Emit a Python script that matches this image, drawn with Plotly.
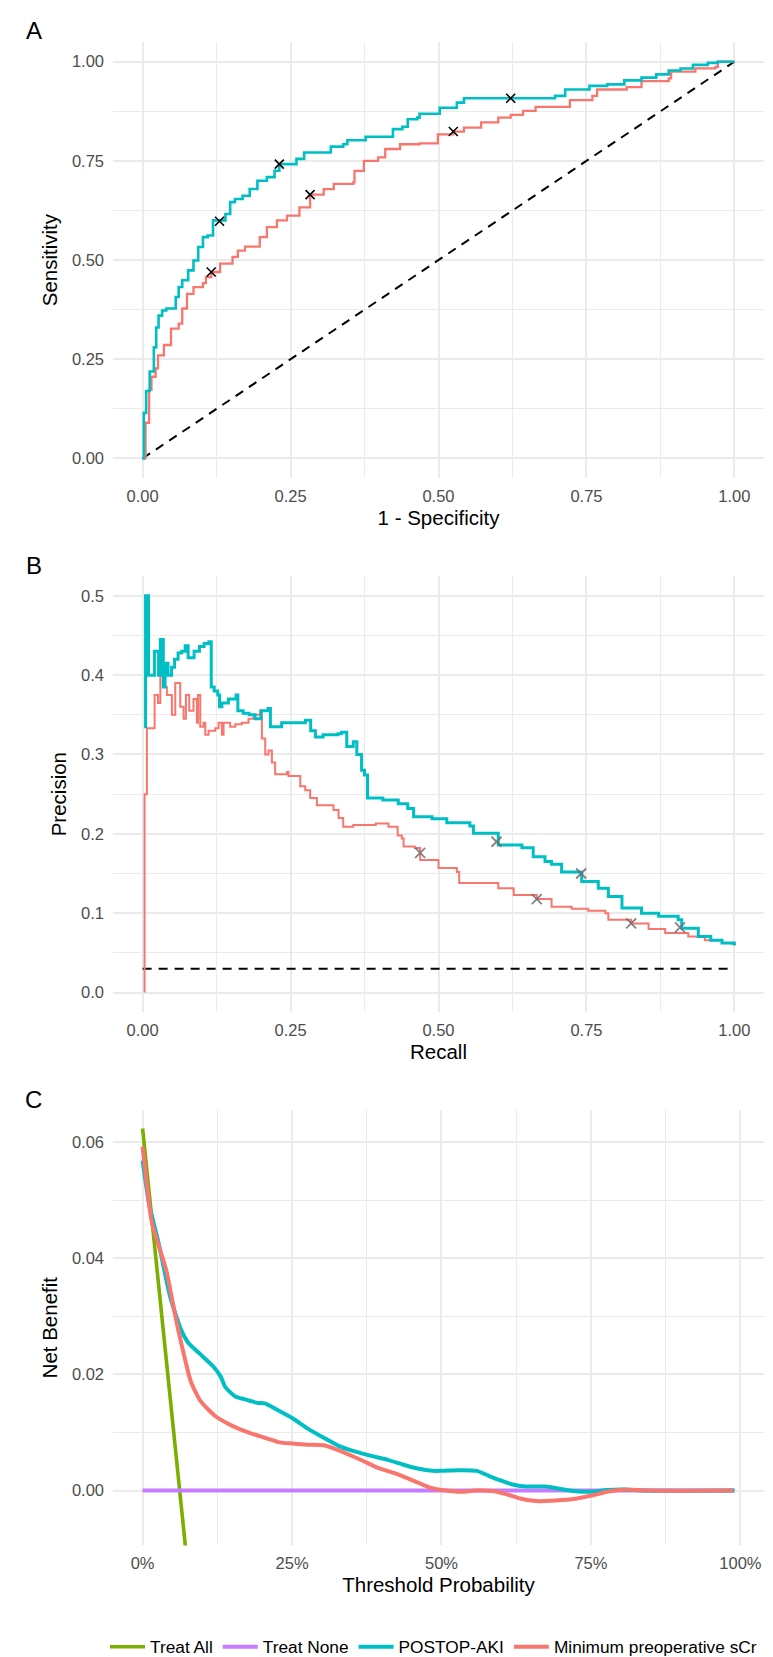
import plotly.graph_objects as go

# ---------------- data ----------------
# Panel A: ROC curves (1 - specificity, sensitivity)
roc_postop_fpr = [0, 0.002, 0.006, 0.012, 0.019, 0.023, 0.027, 0.033, 0.040, 0.052, 0.056, 0.061, 0.067, 0.077,
                  0.086, 0.094, 0.102, 0.110, 0.119, 0.130, 0.140, 0.148, 0.156, 0.169, 0.181, 0.194, 0.210, 0.223,
                  0.231, 0.248, 0.260, 0.273, 0.314, 0.318, 0.339, 0.346, 0.373, 0.377, 0.418, 0.423, 0.439, 0.448,
                  0.464, 0.468, 0.497, 0.502, 0.527, 0.531, 0.543, 0.697, 0.714, 0.751, 0.755, 0.785, 0.814, 0.843,
                  0.868, 0.889, 0.909, 0.930, 0.955, 0.972, 1.0]
roc_postop_tpr = [0, 0.115, 0.17, 0.219, 0.28, 0.33, 0.36, 0.373, 0.378, 0.378, 0.407, 0.432, 0.449, 0.474,
                  0.499, 0.533, 0.558, 0.562, 0.60, 0.60, 0.616, 0.646, 0.654, 0.662, 0.679, 0.70, 0.709, 0.725,
                  0.742, 0.742, 0.755, 0.771, 0.771, 0.786, 0.792, 0.802, 0.802, 0.811, 0.811, 0.83, 0.836, 0.855,
                  0.859, 0.869, 0.869, 0.884, 0.884, 0.897, 0.908, 0.914, 0.93, 0.93, 0.939, 0.943, 0.953, 0.96,
                  0.968, 0.978, 0.983, 0.992, 0.997, 1.0, 1.0]
roc_scr_fpr = [0, 0.005, 0.011, 0.015, 0.022, 0.026, 0.036, 0.048, 0.061, 0.067, 0.075, 0.086, 0.102, 0.107,
               0.116, 0.131, 0.144, 0.152, 0.161, 0.173, 0.196, 0.198, 0.21, 0.227, 0.244, 0.265, 0.283, 0.306,
               0.323, 0.356, 0.358, 0.374, 0.398, 0.41, 0.435, 0.468, 0.497, 0.499, 0.525, 0.543, 0.572, 0.601,
               0.622, 0.643, 0.664, 0.718, 0.722, 0.76, 0.768, 0.818, 0.843, 0.889, 0.893, 0.934, 0.968, 0.972, 1.0]
roc_scr_tpr = [0, 0.09, 0.173, 0.206, 0.227, 0.26, 0.286, 0.327, 0.34, 0.378, 0.415, 0.432, 0.442, 0.457,
               0.47, 0.491, 0.491, 0.508, 0.524, 0.534, 0.534, 0.558, 0.583, 0.60, 0.612, 0.633, 0.665, 0.679,
               0.692, 0.696, 0.725, 0.75, 0.759, 0.78, 0.792, 0.794, 0.794, 0.817, 0.824, 0.834, 0.847, 0.859,
               0.866, 0.876, 0.886, 0.886, 0.903, 0.914, 0.93, 0.936, 0.951, 0.958, 0.975, 0.983, 0.987, 1.0, 1.0]
roc_postop_cut_x = [0.130, 0.231, 0.622]
roc_postop_cut_y = [0.598, 0.742, 0.908]
roc_scr_cut_x = [0.116, 0.283, 0.525]
roc_scr_cut_y = [0.470, 0.665, 0.824]
ref_diag = [0, 1]

# Panel B: precision-recall curves
pr_postop_rec = [0.005, 0.005, 0.010, 0.020, 0.027, 0.030, 0.035, 0.038, 0.043, 0.049, 0.054, 0.060, 0.066,
                 0.072, 0.077, 0.087, 0.096, 0.104, 0.112, 0.116, 0.121, 0.127, 0.130, 0.134, 0.145, 0.158, 0.161,
                 0.170, 0.180, 0.190, 0.200, 0.212, 0.216, 0.235, 0.275, 0.284, 0.292, 0.305, 0.330, 0.336, 0.345,
                 0.356, 0.362, 0.370, 0.375, 0.380, 0.406, 0.432, 0.448, 0.458, 0.489, 0.514, 0.553, 0.559, 0.601,
                 0.641, 0.660, 0.680, 0.691, 0.708, 0.741, 0.742, 0.770, 0.787, 0.810, 0.843, 0.872, 0.905, 0.911,
                 0.939, 0.960, 0.979, 1.0]
pr_postop_prec = [0.333, 0.5, 0.40, 0.43, 0.40, 0.445, 0.385, 0.415, 0.40, 0.41, 0.42, 0.428, 0.43,
                  0.437, 0.422, 0.43, 0.436, 0.44, 0.442, 0.385, 0.38, 0.375, 0.36, 0.365, 0.37, 0.375, 0.355,
                  0.352, 0.35, 0.345, 0.355, 0.358, 0.335, 0.34, 0.343, 0.33, 0.322, 0.325, 0.326, 0.328, 0.31,
                  0.316, 0.30, 0.28, 0.274, 0.245, 0.2425, 0.238, 0.232, 0.2215, 0.219, 0.214, 0.210, 0.2006, 0.186,
                  0.1826, 0.171, 0.165, 0.1616, 0.152, 0.150, 0.14, 0.1315, 0.121, 0.1064, 0.100, 0.096, 0.0917, 0.081,
                  0.0707, 0.066, 0.0624, 0.0594]
pr_scr_rec = [0.0034, 0.0034, 0.0073, 0.0203, 0.026, 0.030, 0.035, 0.041, 0.0495, 0.0552, 0.0636, 0.0693, 0.0732,
              0.0788, 0.086, 0.0918, 0.0935, 0.0974, 0.103, 0.1059, 0.1115, 0.1227, 0.1284, 0.134, 0.1368, 0.148,
              0.1565, 0.1678, 0.179, 0.1875, 0.1988, 0.2016, 0.2072, 0.2128, 0.2185, 0.224, 0.2354, 0.2438, 0.2466,
              0.2607, 0.2664, 0.2748, 0.2832, 0.2945, 0.3086, 0.3226, 0.3311, 0.339, 0.356, 0.394, 0.4155, 0.431,
              0.438, 0.441, 0.460, 0.469, 0.494, 0.500, 0.531, 0.535, 0.562, 0.601, 0.627, 0.666, 0.691, 0.725,
              0.753, 0.782, 0.787, 0.8255, 0.855, 0.883, 0.922, 0.950, 0.979, 0.995]
pr_scr_prec = [0.0, 0.25, 0.333, 0.375, 0.365, 0.40, 0.385, 0.375, 0.35, 0.39, 0.36, 0.345, 0.375,
               0.355, 0.37, 0.34, 0.375, 0.335, 0.34, 0.325, 0.33, 0.333, 0.34, 0.325, 0.34, 0.335,
               0.338, 0.34, 0.345, 0.35, 0.355, 0.32, 0.30, 0.305, 0.29, 0.275, 0.275, 0.278, 0.273,
               0.273, 0.26, 0.255, 0.245, 0.236, 0.236, 0.23, 0.22, 0.209, 0.211, 0.213, 0.209, 0.198,
               0.194, 0.184, 0.182, 0.167, 0.167, 0.157, 0.152, 0.138, 0.138, 0.1315, 0.123, 0.1177, 0.108, 0.1055,
               0.103, 0.100, 0.0917, 0.087, 0.080, 0.075, 0.0707, 0.066, 0.0624, 0.060]
pr_postop_cut_x = [0.598, 0.741, 0.908]
pr_postop_cut_y = [0.190, 0.150, 0.082]
pr_scr_cut_x = [0.469, 0.666, 0.8255]
pr_scr_cut_y = [0.176, 0.1177, 0.087]
pr_baseline_x = [0, 1]
pr_baseline_y = [0.03, 0.03]

# Panel C: decision curves (threshold probability, net benefit)
dca_all_thr = [0, 0.03, 0.0627, 0.0725, 0.08]
dca_all_nb = [0.0623, 0.0325, 0.0, -0.0094, -0.018]
dca_none_thr = [0, 0.99]
dca_none_nb = [0, 0]
dca_postop_thr = [0, 0.0107, 0.027, 0.046, 0.0643, 0.0767, 0.0973, 0.1179, 0.1303, 0.1385, 0.155, 0.1715, 0.192,
                  0.2045, 0.225, 0.25, 0.279, 0.303, 0.328, 0.353, 0.386, 0.41, 0.435, 0.46, 0.485, 0.501, 0.526,
                  0.559, 0.58, 0.60, 0.617, 0.641, 0.674, 0.699, 0.724, 0.753, 0.777, 0.806, 0.839, 0.99]
dca_postop_nb = [0.0568, 0.0494, 0.0425, 0.0334, 0.0277, 0.0254, 0.0234, 0.0214, 0.0197, 0.0178, 0.0162, 0.0157, 0.0151,
                 0.0150, 0.0139, 0.0125, 0.0105, 0.0091, 0.0077, 0.0068, 0.0059, 0.0053, 0.0045, 0.0038, 0.0034, 0.0034, 0.0035,
                 0.0034, 0.0025, 0.0017, 0.0011, 0.0007, 0.0007, 0.0003, -0.0001, -0.0002, 0.0001, 0.0002, 0.0, 0.0]
dca_scr_thr = [0, 0.0148, 0.024, 0.0396, 0.056, 0.0684, 0.081, 0.097, 0.122, 0.151, 0.18, 0.2045, 0.229, 0.25,
               0.2745, 0.303, 0.324, 0.345, 0.369, 0.394, 0.427, 0.46, 0.481, 0.501, 0.534, 0.555, 0.588, 0.608,
               0.633, 0.658, 0.691, 0.724, 0.753, 0.7815, 0.81, 0.847, 0.988]
dca_scr_nb = [0.0592, 0.0465, 0.0431, 0.0379, 0.0294, 0.0237, 0.0187, 0.0154, 0.0128, 0.0111, 0.0099, 0.0091, 0.0083, 0.0081,
              0.0079, 0.0078, 0.0071, 0.0062, 0.0051, 0.0039, 0.0028, 0.0014, 0.0005, 0.0001, -0.0002, 0.0, -0.0001, -0.0006,
              -0.0014, -0.0018, -0.0017, -0.0014, -0.0008, -0.0001, 0.0002, 0.0, 0.0]

# ---------------- styling ----------------
W, H = 773, 1657
RED, TEAL, GREEN, PURPLE = "#F8766D", "#00BFC4", "#7CAE00", "#C77CFF"
FONT = "Liberation Sans, Arial, Helvetica, sans-serif"
GRID = "#EBEBEB"
TICKC = "#4D4D4D"
DASH = "9px,7px"

def fx(px):
    return px / W

def fy(py):
    return 1 - py / H

fig = go.Figure()

# Panel A
fig.add_trace(go.Scatter(x=ref_diag, y=ref_diag, mode="lines", line=dict(color="black", width=2, dash=DASH),
                         showlegend=False, xaxis="x", yaxis="y"))
fig.add_trace(go.Scatter(x=roc_scr_fpr, y=roc_scr_tpr, mode="lines", line=dict(color=RED, width=2.3, shape="hv"),
                         showlegend=False, xaxis="x", yaxis="y"))
fig.add_trace(go.Scatter(x=roc_postop_fpr, y=roc_postop_tpr, mode="lines", line=dict(color=TEAL, width=2.6, shape="hv"),
                         showlegend=False, xaxis="x", yaxis="y"))
fig.add_trace(go.Scatter(x=roc_postop_cut_x + roc_scr_cut_x, y=roc_postop_cut_y + roc_scr_cut_y, mode="markers",
                         marker=dict(symbol="x-thin", size=9, line=dict(color="black", width=1.6)),
                         showlegend=False, xaxis="x", yaxis="y"))

# Panel B
fig.add_trace(go.Scatter(x=pr_baseline_x, y=pr_baseline_y, mode="lines", line=dict(color="black", width=2, dash=DASH),
                         showlegend=False, xaxis="x2", yaxis="y2"))
fig.add_trace(go.Scatter(x=pr_scr_rec, y=pr_scr_prec, mode="lines", line=dict(color=RED, width=2, shape="hv"),
                         showlegend=False, xaxis="x2", yaxis="y2"))
fig.add_trace(go.Scatter(x=pr_postop_rec, y=pr_postop_prec, mode="lines", line=dict(color=TEAL, width=3, shape="hv"),
                         showlegend=False, xaxis="x2", yaxis="y2"))
fig.add_trace(go.Scatter(x=pr_postop_cut_x + pr_scr_cut_x, y=pr_postop_cut_y + pr_scr_cut_y, mode="markers",
                         marker=dict(symbol="x-thin", size=10, line=dict(color="rgba(110,110,110,0.85)", width=1.8)),
                         showlegend=False, xaxis="x2", yaxis="y2"))

# Panel C
fig.add_trace(go.Scatter(x=dca_all_thr, y=dca_all_nb, mode="lines", name="Treat All",
                         line=dict(color=GREEN, width=3.6), xaxis="x3", yaxis="y3"))
fig.add_trace(go.Scatter(x=dca_none_thr, y=dca_none_nb, mode="lines", name="Treat None",
                         line=dict(color=PURPLE, width=4), xaxis="x3", yaxis="y3"))
fig.add_trace(go.Scatter(x=dca_postop_thr, y=dca_postop_nb, mode="lines", name="POSTOP-AKI",
                         line=dict(color=TEAL, width=4, shape="spline", smoothing=0.6), xaxis="x3", yaxis="y3"))
fig.add_trace(go.Scatter(x=dca_scr_thr, y=dca_scr_nb, mode="lines", name="Minimum preoperative sCr",
                         line=dict(color=RED, width=4, shape="spline", smoothing=0.6), xaxis="x3", yaxis="y3"))

tickfont = dict(family=FONT, size=16.5, color=TICKC)
titlefont = dict(family=FONT, size=20.5, color="black")

def xax(rng, title, dtick, minor, fmt=None):
    d = dict(domain=[fx(105), fx(756)], range=rng, showgrid=True, gridcolor=GRID, gridwidth=2,
             zeroline=False, showline=False, ticks="", dtick=dtick, tick0=0, tickfont=tickfont,
             ticklabelstandoff=6,
             minor=dict(dtick=minor, tick0=0, showgrid=True, gridcolor=GRID, gridwidth=1.2),
             title=dict(text=title, font=titlefont, standoff=6), automargin=False, fixedrange=True)
    if fmt:
        d["tickformat"] = fmt
    return d

def yax(rng, title, dtick, minor, top, bottom, fmt=None):
    d = dict(domain=[fy(bottom), fy(top)], range=rng, showgrid=True, gridcolor=GRID, gridwidth=2,
             zeroline=False, showline=False, ticks="", dtick=dtick, tick0=0, tickfont=tickfont,
             ticklabelstandoff=8,
             minor=dict(dtick=minor, tick0=0, showgrid=True, gridcolor=GRID, gridwidth=1.2),
             title=dict(text=title, font=titlefont, standoff=8), automargin=False, fixedrange=True)
    if fmt:
        d["tickformat"] = fmt
    return d

xa = xax([-0.05, 1.05], "1 - Specificity", 0.25, 0.125, ".2f")
ya = yax([-0.05, 1.05], "Sensitivity", 0.25, 0.125, 34, 472, ".2f")
xb = xax([-0.05, 1.05], "Recall", 0.25, 0.125, ".2f")
yb = yax([-0.025, 0.525], "Precision", 0.1, 0.05, 570, 1008, ".1f")
xc = xax([-0.0495, 1.0395], "Threshold Probability", 0.25, 0.125, ".0%")
yc = yax([-0.00943, 0.06549], "Net Benefit", 0.02, 0.01, 1106, 1543, ".2f")
xb["anchor"] = "y2"
yb["anchor"] = "x2"
xc["anchor"] = "y3"
yc["anchor"] = "x3"

panel_labels = []
for lab, py in [("A", 23), ("B", 560), ("C", 1095)]:
    panel_labels.append(dict(text=lab, x=fx(26), y=fy(py), xref="paper", yref="paper", showarrow=False,
                             xanchor="center", yanchor="middle", font=dict(family=FONT, size=24, color="black")))

fig.update_layout(
    width=W, height=H, margin=dict(l=0, r=0, t=0, b=0),
    paper_bgcolor="white", plot_bgcolor="white",
    xaxis=xa, yaxis=ya, xaxis2=xb, yaxis2=yb, xaxis3=xc, yaxis3=yc,
    annotations=panel_labels,
    legend=dict(orientation="h", x=fx(97), y=fy(1645), xanchor="left", yanchor="middle",
                font=dict(family=FONT, size=17.3, color="black"), bgcolor="rgba(0,0,0,0)",
                itemwidth=35, tracegroupgap=0),
    showlegend=True,
)

fig.write_html("out.html")
